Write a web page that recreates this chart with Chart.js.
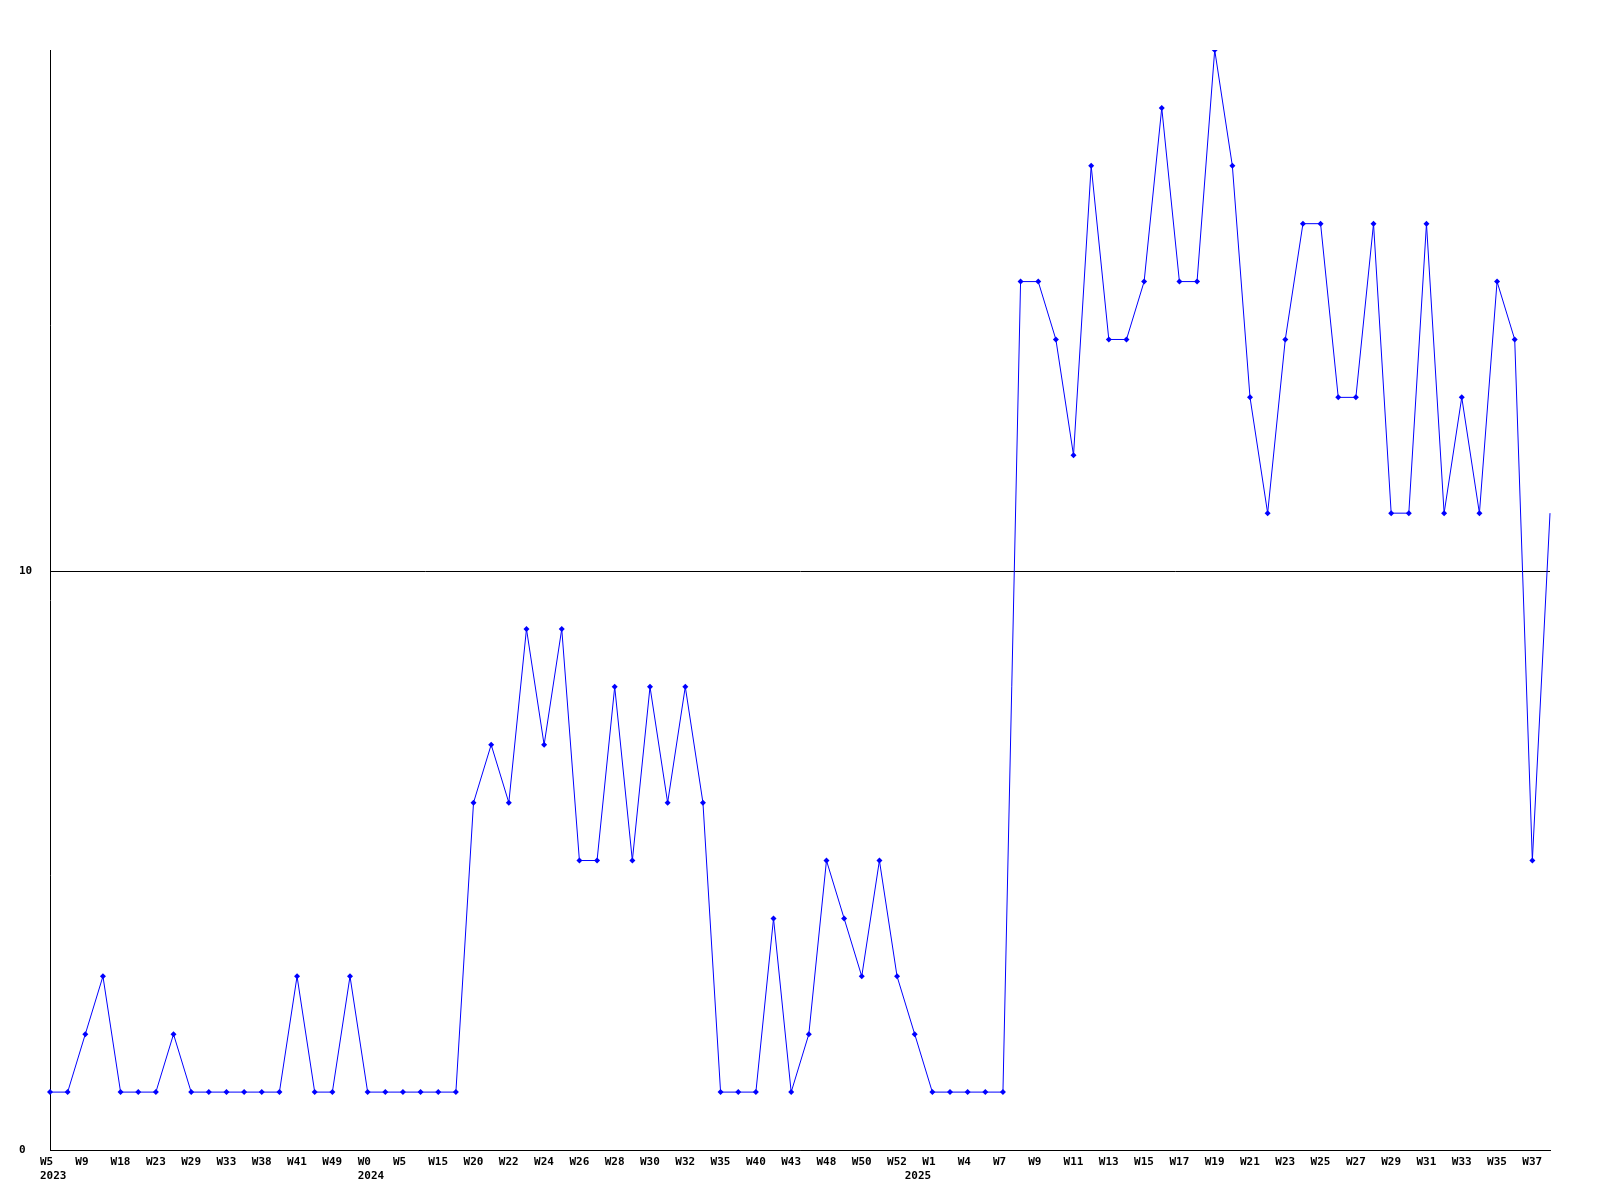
<!DOCTYPE html>
<html>
<head>
<meta charset="utf-8">
<script src="https://cdn.jsdelivr.net/npm/chart.js@4/dist/chart.umd.min.js"></script>
<style>
  html, body { margin: 0; padding: 0; background: #fff; }
  #wrap { width: 1600px; height: 1200px; }
</style>
</head>
<body>
<div id="wrap"><canvas id="chart" width="1600" height="1200"></canvas></div>
<script>
// weekly counts, one point per week that has data
const counts = [
  1, 1, 2, 3, 1, 1, 1, 2, 1, 1, 1, 1, 1, 1, 3, 1, 1, 3, 1, 1,
  1, 1, 1, 1, 6, 7, 6, 9, 7, 9, 5, 5, 8, 5, 8, 6, 8, 6, 1, 1,
  1, 4, 1, 2, 5, 4, 3, 5, 3, 2, 1, 1, 1, 1, 1, 15, 15, 14, 12, 17,
  14, 14, 15, 18, 15, 15, 19, 17, 13, 11, 14, 16, 16, 13, 13, 16, 11, 11, 16, 11,
  13, 11, 15, 14, 5, 11
];

// labels shown under every other point
const weekTicks = [
  "W5", "W9", "W18", "W23", "W29", "W33", "W38", "W41", "W49", "W0",
  "W5", "W15", "W20", "W22", "W24", "W26", "W28", "W30", "W32", "W35",
  "W40", "W43", "W48", "W50", "W52", "W1", "W4", "W7", "W9", "W11",
  "W13", "W15", "W17", "W19", "W21", "W23", "W25", "W27", "W29", "W31",
  "W33", "W35", "W37"
];

// point index where a new year starts, and its label
const yearIndex = [0, 18, 49];
const yearText = ["2023", "2024", "2025"];

const yTicks = [0, 10];

// build the category labels (second line = year)
const labels = counts.map((_, i) => {
  const week = i % 2 === 0 ? (weekTicks[i / 2] || "") : "";
  const y = yearIndex.indexOf(i);
  return y >= 0 ? [week, yearText[y]] : week;
});

const tickFont = { family: "DejaVu Sans Mono", size: 11, weight: "bold", lineHeight: 1.3 };

new Chart(document.getElementById("chart"), {
  type: "line",
  data: {
    labels,
    datasets: [{
      data: counts,
      borderColor: "#0000ff",
      backgroundColor: "#0000ff",
      borderWidth: 1,
      tension: 0,
      pointStyle: "rectRot",
      // last marker sits on the plot edge and is cut off in the original
      pointRadius: (ctx) => (ctx.dataIndex === counts.length - 1 ? 0 : 3),
      pointBorderWidth: 0,
    }],
  },
  options: {
    responsive: false,
    animation: false,
    layout: { padding: { top: 50, right: 50, left: 19, bottom: 0 } },
    plugins: {
      legend: { display: false },
      tooltip: { enabled: false },
    },
    scales: {
      x: {
        type: "category",
        offset: false,
        grid: { display: false, drawTicks: false },
        border: { display: true, color: "#000", width: 1 },
        ticks: {
          autoSkip: false,
          maxRotation: 0,
          minRotation: 0,
          align: "start",
          labelOffset: -10,
          padding: 5,
          color: "#000",
          font: tickFont,
        },
        afterFit(scale) { scale.height = 50; },
      },
      y: {
        min: 0,
        max: 19,
        grid: {
          drawTicks: false,
          color: "#000",
          lineWidth: 1,
        },
        border: { display: true, color: "#000", width: 1 },
        ticks: {
          crossAlign: "far",
          padding: 0,
          color: "#000",
          font: tickFont,
        },
        afterBuildTicks(scale) {
          scale.ticks = yTicks.map(v => ({ value: v }));
        },
        afterFit(scale) { scale.width = 31; },
      },
    },
  },
});
</script>
</body>
</html>
